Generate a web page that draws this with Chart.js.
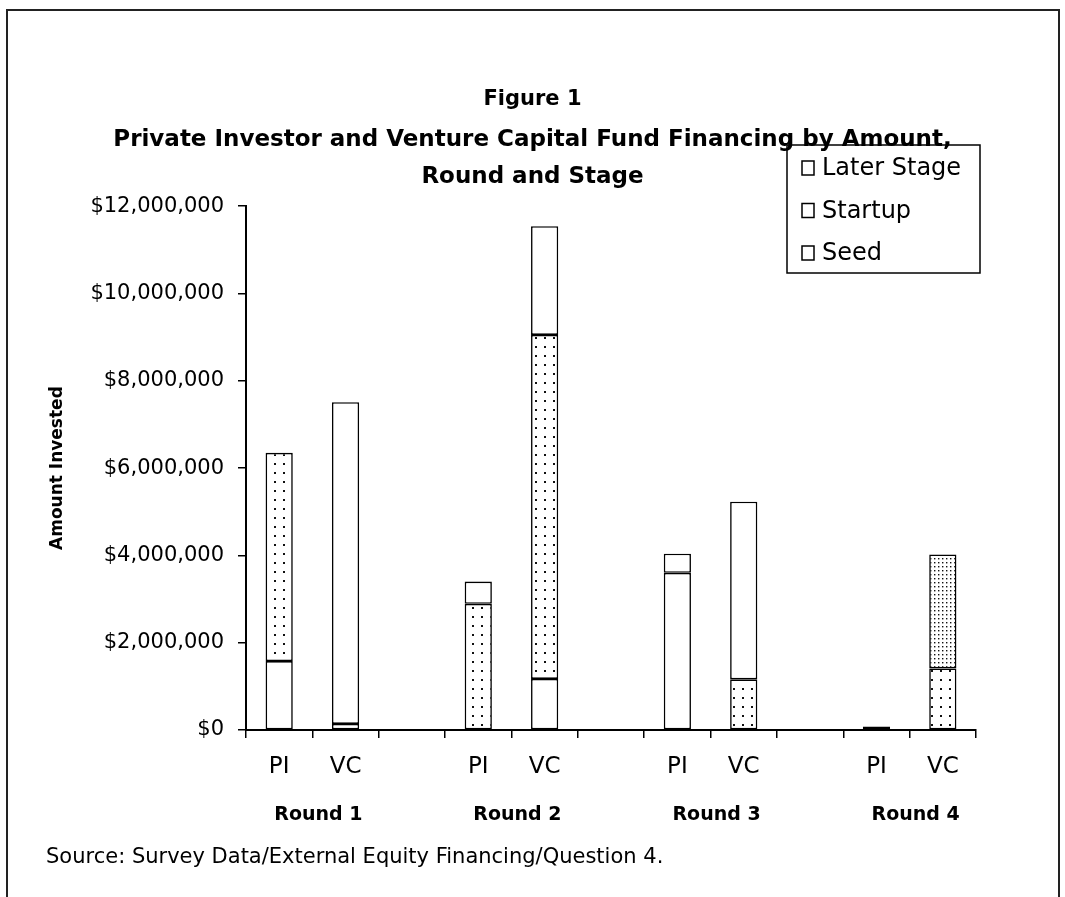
<!DOCTYPE html>
<html>
<head>
<meta charset="utf-8">
<script src="https://cdn.jsdelivr.net/npm/chart.js@4.4.1/dist/chart.umd.min.js"></script>
<style>
  body { margin: 0; background: #fff; }
  canvas { display: block; }
</style>
</head>
<body>
<canvas id="grafico" width="1065" height="897"></canvas>
<script>
// categorias del eje x (huecos vacios entre rondas)
const categorias = ['PI', 'VC', '', 'PI', 'VC', '', 'PI', 'VC', '', 'PI', 'VC'];
const rondas = ['Round 1', 'Round 2', 'Round 3', 'Round 4'];

// importes (dolares)
const seed       = [1580000,  140000, null,       0, 1170000, null, 3600000,       0, null, 80000,       0];
const startup    = [4770000,       0, null, 2890000, 7880000, null,       0, 1160000, null,     0, 1410000];
const laterStage = [      0, 7370000, null,  510000, 2490000, null,  440000, 4070000, null,     0, 2610000];

const yMin = 0;
const yMax = 12000000;
const yPaso = 2000000;

const fuente = "'DejaVu Sans', Verdana, sans-serif";
Chart.defaults.font.family = fuente;
Chart.defaults.color = '#000';

// tramas de puntos
function crearTrama(paso, punto) {
    const c = document.createElement('canvas');
    c.width = paso;
    c.height = paso;
    const g = c.getContext('2d');
    g.fillStyle = '#fff';
    g.fillRect(0, 0, paso, paso);
    g.fillStyle = '#111';
    g.fillRect(Math.floor(paso / 2), Math.floor(paso / 2), punto, punto);
    return document.getElementById('grafico').getContext('2d').createPattern(c, 'repeat');
}
const tramaRala = crearTrama(9, 2);
const tramaDensa = crearTrama(4, 1.4);

const fondoLater = laterStage.map((_, i) => i === 10 ? tramaDensa : '#fff');

// marco, leyenda, rondas y fuente
const extras = {
    id: 'extras',
    beforeDraw(chart) {
        const ctx = chart.ctx;
        ctx.save();
        ctx.fillStyle = '#fff';
        ctx.fillRect(0, 0, chart.width, chart.height);
        ctx.strokeStyle = '#222';
        ctx.lineWidth = 2;
        ctx.beginPath();
        ctx.moveTo(7, 897);
        ctx.lineTo(7, 10);
        ctx.lineTo(1059, 10);
        ctx.lineTo(1059, 897);
        ctx.stroke();
        ctx.restore();
    },
    afterDraw(chart) {
        const ctx = chart.ctx;
        const x = chart.scales.x;
        ctx.save();

        // etiquetas de ronda
        ctx.font = 'bold 19px ' + fuente;
        ctx.textAlign = 'center';
        ctx.textBaseline = 'middle';
        rondas.forEach((r, i) => {
            const medio = (x.getPixelForValue(i * 3) + x.getPixelForValue(i * 3 + 1)) / 2;
            ctx.fillText(r, medio + 6, 815);
        });

        // fuente
        ctx.font = '21px ' + fuente;
        ctx.textAlign = 'left';
        ctx.fillText('Source: Survey Data/External Equity Financing/Question 4.', 46, 858);

        // leyenda (orden inverso)
        ctx.lineWidth = 1.5;
        ctx.strokeStyle = '#000';
        ctx.strokeRect(787, 145, 193, 128);
        const items = chart.data.datasets.slice().reverse();
        ctx.font = '24px ' + fuente;
        items.forEach((d, i) => {
            const cy = 168 + i * 42.5;
            ctx.fillStyle = '#fff';
            ctx.fillRect(802, cy - 7, 12, 14);
            ctx.strokeRect(802, cy - 7, 12, 14);
            ctx.fillStyle = '#000';
            ctx.fillText(d.label, 822, cy + 1);
        });
        ctx.restore();
    }
};

const estiloBarra = {
    borderColor: '#000',
    borderWidth: 1.6,
    borderSkipped: false,
    categoryPercentage: 1,
    barPercentage: 0.41
};

new Chart(document.getElementById('grafico'), {
    type: 'bar',
    data: {
        labels: categorias,
        datasets: [
            Object.assign({ label: 'Seed', data: seed, backgroundColor: '#fff' }, estiloBarra),
            Object.assign({ label: 'Startup', data: startup, backgroundColor: tramaRala }, estiloBarra),
            Object.assign({ label: 'Later Stage', data: laterStage, backgroundColor: fondoLater }, estiloBarra)
        ]
    },
    options: {
        responsive: false,
        animation: false,
        layout: { padding: 0 },
        plugins: {
            legend: { display: false },
            tooltip: { enabled: false },
            title: {
                display: true,
                text: 'Figure 1',
                font: { size: 21, weight: 'bold' },
                padding: { top: 87, bottom: 0 }
            },
            subtitle: {
                display: true,
                text: ['Private Investor and Venture Capital Fund Financing by Amount,', 'Round and Stage'],
                font: { size: 23, weight: 'bold', lineHeight: 1.63 },
                padding: { top: 9, bottom: 10 }
            }
        },
        scales: {
            x: {
                stacked: true,
                afterFit: s => { s.height = 167; },
                border: { color: '#000', width: 2 },
                grid: { offset: true, drawOnChartArea: false, color: '#000', lineWidth: 1.5, tickLength: 8 },
                ticks: { font: { size: 23 }, padding: 15, maxRotation: 0, autoSkip: false }
            },
            y: {
                stacked: true,
                min: yMin,
                max: yMax,
                afterFit: s => { s.width = 246; },
                border: { color: '#000', width: 2 },
                grid: { drawOnChartArea: false, color: '#000', lineWidth: 1.5, tickLength: 8 },
                ticks: {
                    stepSize: yPaso,
                    font: { size: 21 },
                    padding: 14,
                    callback: v => '$' + v.toLocaleString('en-US')
                },
                title: {
                    display: true,
                    text: 'Amount Invested',
                    font: { size: 17, weight: 'bold' },
                    padding: { top: 47, bottom: 0 }
                }
            },
            // eje vacio a la derecha: deja el margen y mantiene el titulo centrado
            margen: {
                position: 'right',
                afterFit: s => { s.width = 89; },
                ticks: { display: false },
                grid: { display: false },
                border: { display: false }
            }
        }
    },
    plugins: [extras]
});
</script>
</body>
</html>
